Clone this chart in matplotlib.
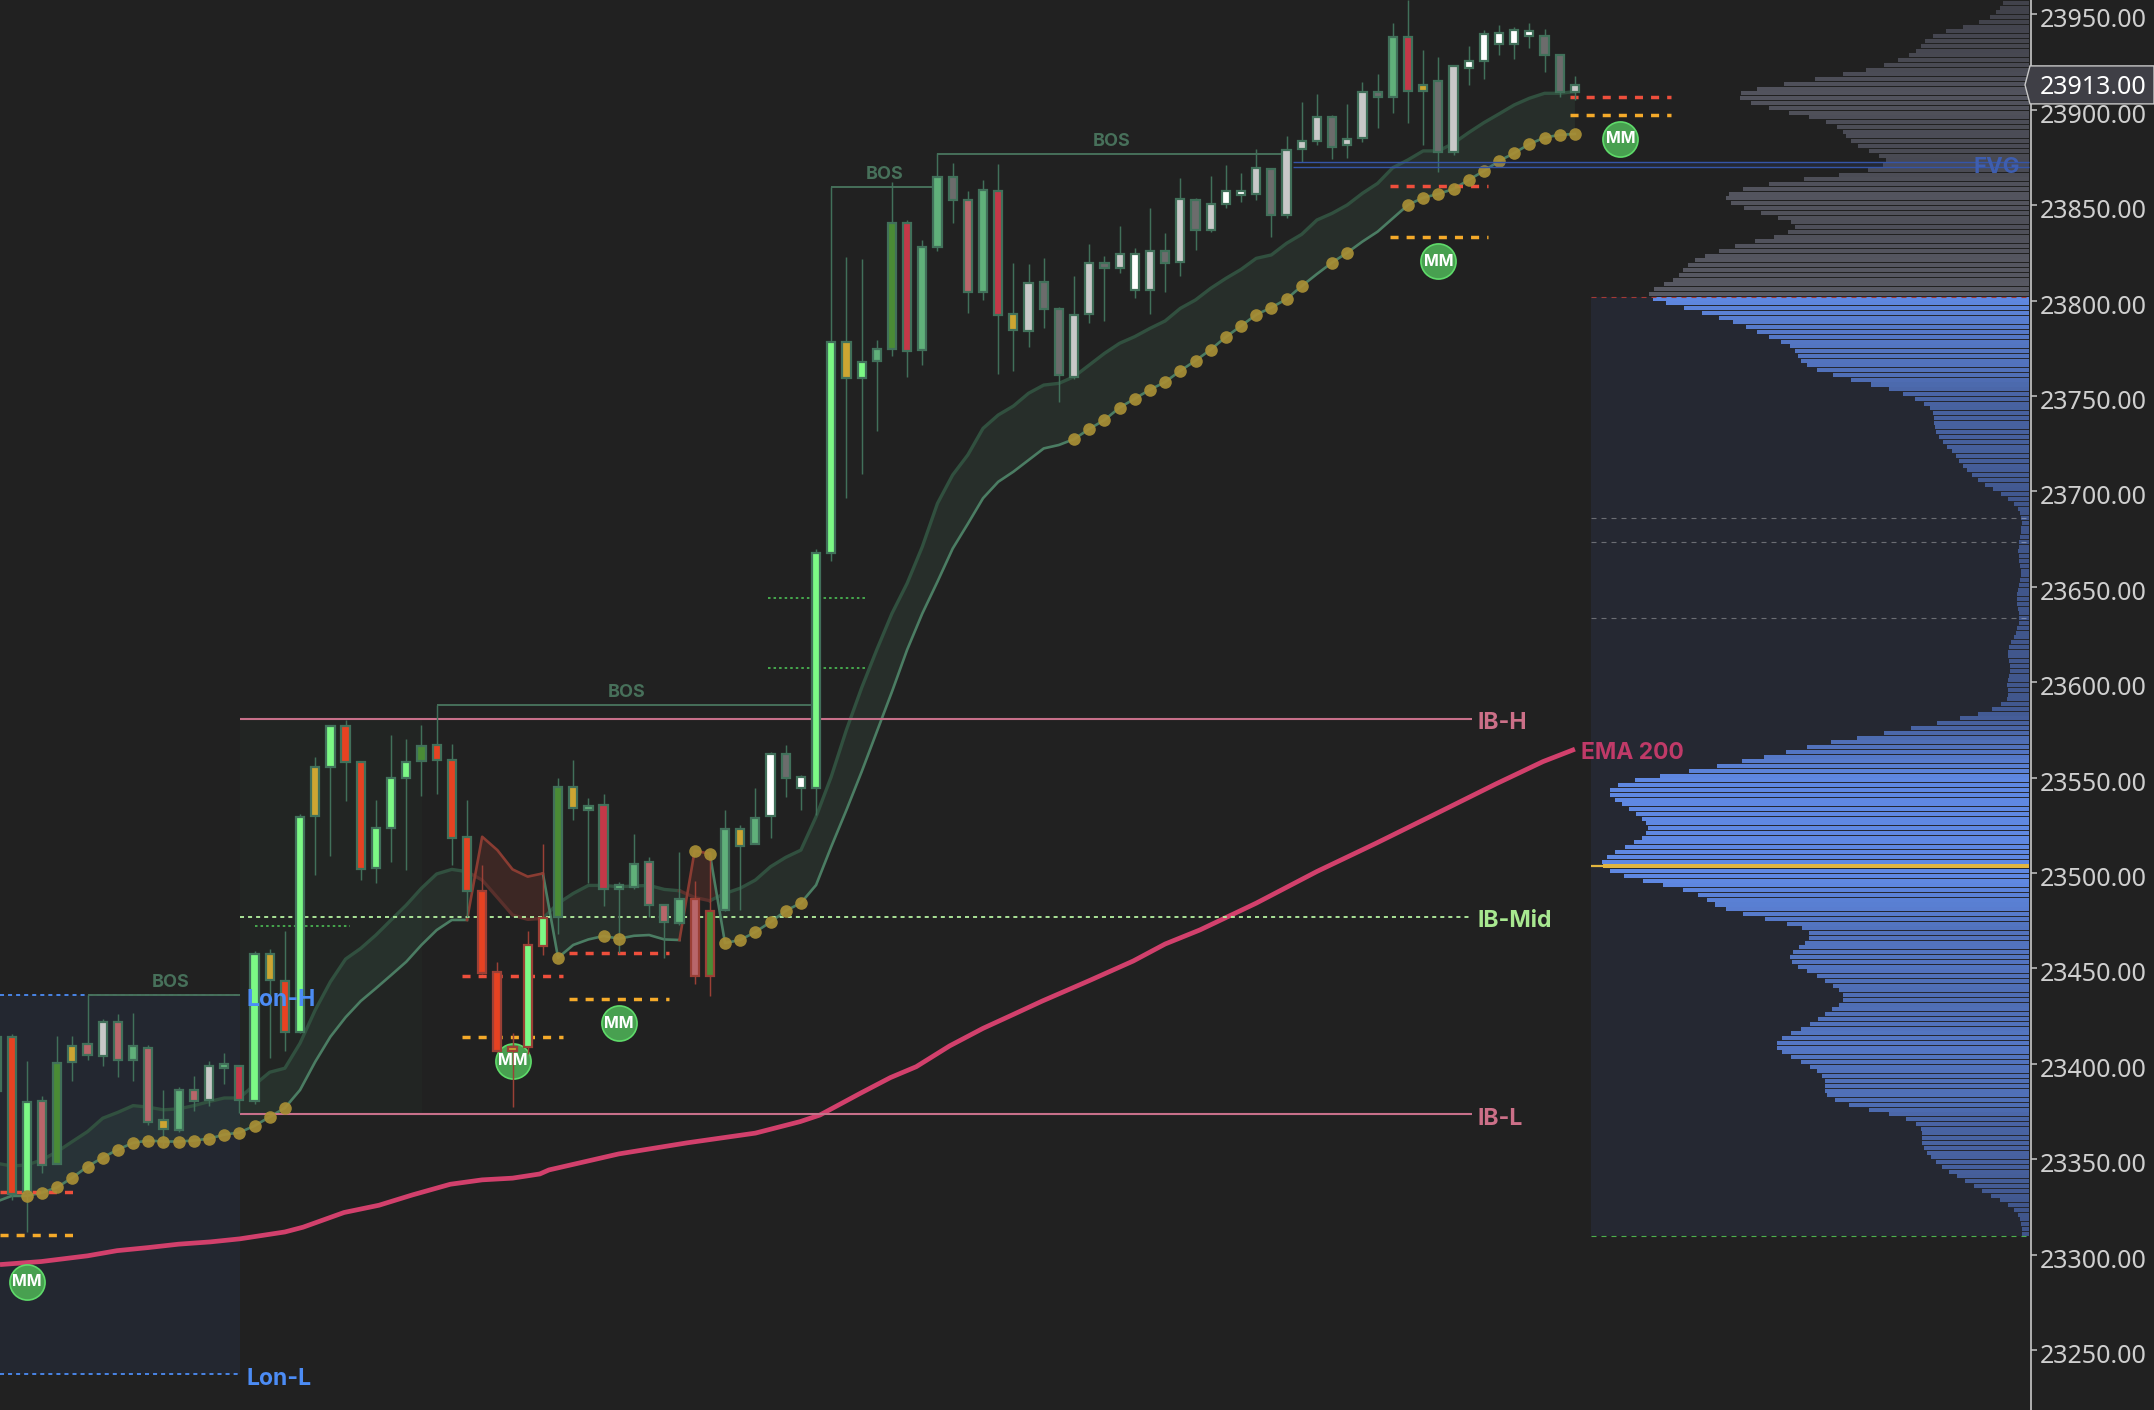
import numpy as np
import matplotlib
matplotlib.use("Agg")
import matplotlib.pyplot as plt
from matplotlib.patches import Polygon
from matplotlib.transforms import IdentityTransform, ScaledTranslation
from matplotlib.colors import to_rgb

plt.rcParams['lines.scale_dashes'] = False
plt.rcParams['font.family'] = ['Noto Sans', 'DejaVu Sans']

# --- candles, first bar is index -2 ---
first_bar = -2
body_top = [23414,23414,23380.2,23380.7,23400.7,23409.6,23410.6,23422.1,23422.1,23409.6,
 23408.5,23370.4,23386.5,23386.5,23399.1,23400,23399.1,23457.8,23457.3,23443.6,
 23529.5,23555.7,23577.2,23577.2,23558.3,23523.7,23549.6,23558.3,23566.7,23567.2,
 23559.4,23519,23490.7,23448.3,23409,23462.4,23476.4,23544.9,23544.9,23535.1,
 23535.4,23493.7,23504.9,23505.9,23483.4,23486.5,23486.5,23480.2,23523.2,23523.2,
 23529,23562.5,23562.5,23550.1,23667.9,23778.1,23778.1,23768,23774.4,23840.5,
 23840.8,23828.2,23864.9,23864.9,23852.9,23858.1,23857.6,23792.8,23809.4,23809.9,
 23795.4,23792.6,23819.8,23819.8,23824.6,23824.6,23826.1,23826.1,23853.4,23852.5,
 23850.8,23857.6,23857.6,23869.3,23868.8,23879.1,23883.8,23896.4,23896,23884.8,
 23909.5,23909.5,23938.3,23938.3,23913.1,23915.2,23923.1,23925.7,23939.9,23940.4,
 23942,23941.4,23938.8,23928.9,23912.8]
body_bot = [23386,23331.7,23332.7,23347,23347.4,23400.8,23404.5,23404,23401.9,23401.9,
 23369.4,23365.6,23365.4,23380.4,23380.9,23398,23380.9,23380.4,23443.8,23416.6,
 23416.5,23529.7,23555.4,23558,23501.9,23502.4,23523.4,23549.6,23558.8,23559.2,
 23518.2,23490.6,23447.4,23406.5,23406.7,23408.6,23461.7,23477.1,23533.9,23533.2,
 23491.4,23491.8,23492.5,23483,23474.1,23473.6,23446,23446,23480.4,23514,
 23515.2,23529.9,23549.6,23544.4,23544.4,23667.5,23759.2,23759.2,23768.1,23774.4,
 23773.4,23773.9,23827.9,23852.5,23804.3,23804.3,23792.2,23784.4,23783.9,23795.4,
 23761.2,23759.9,23792.9,23816.9,23816.9,23805.3,23805.3,23819.8,23820,23836.8,
 23836.8,23850.4,23855.1,23855.7,23844.7,23844.7,23879.2,23883.4,23880.6,23881.3,
 23885,23906.8,23906.7,23909.6,23909.6,23877.7,23877.7,23921.7,23925.4,23934.3,
 23934.3,23938.6,23928.5,23909.1,23909.1]
wick_high = [23420,23415.5,23401.4,23383.2,23414.6,23414.6,23436.1,23423.4,23426.2,23426.7,
 23409.7,23386.3,23387.9,23393.7,23401.4,23405.7,23399.1,23459.2,23460,23469.7,
 23530.9,23560.6,23577.2,23580.2,23558.3,23538.2,23572.3,23570.2,23577.5,23588,
 23567.6,23538.2,23504.2,23453.5,23416,23469.6,23515.2,23549.6,23559.2,23539.1,
 23541.4,23495.4,23520.4,23508.5,23484,23511,23496,23511.2,23533,23525.1,
 23544.4,23563.6,23567.1,23551.3,23669.6,23859.7,23822.8,23821.8,23779.3,23861.9,
 23842.2,23831.7,23877.1,23871.9,23857.4,23863.2,23871.6,23819.5,23819,23822.1,
 23796.4,23812.9,23829.4,23823.3,23839.1,23827.5,23848.5,23835.4,23864.2,23853.6,
 23865.3,23871,23866.8,23879.4,23869.3,23886.2,23904.1,23908.2,23897.2,23903,
 23914.5,23918.7,23945.4,23957.5,23931.3,23927.6,23923.1,23933.4,23941.8,23944.4,
 23943.2,23945.4,23942.3,23929,23917.7]
wick_low = [23380,23328.7,23311.8,23343,23347.4,23391.1,23402.1,23398.9,23393.1,23391.1,
 23368,23357,23364.5,23375.5,23378.1,23389.5,23374.1,23378.7,23402.8,23406.9,
 23416,23498.9,23509.1,23537.9,23496.3,23494.9,23505.9,23501.6,23540.5,23541.4,
 23504.2,23477.1,23447,23406,23377.3,23405,23457,23468,23527.8,23494.6,
 23482.7,23457.9,23491.8,23477.1,23455.3,23473,23441.8,23435.7,23480,23480.6,
 23515,23518.5,23540,23533,23530.4,23663.7,23696.7,23709.3,23731.8,23771.1,
 23760.1,23766.2,23826.1,23840.8,23793.6,23800.3,23761.7,23763.2,23775.8,23785.8,
 23747,23759,23788.4,23789.3,23814.6,23801.5,23793.1,23804.5,23812.9,23826.5,
 23836,23848.5,23851.6,23852.7,23833.5,23843.3,23872.4,23881.5,23874.2,23874.9,
 23883.3,23890.6,23898.5,23893.2,23881.7,23867.5,23876.3,23913.1,23916.3,23928.7,
 23926.6,23932.3,23919.8,23906.8,23905]
body_codes = ("DRBSDGSLSMSGMSLMCBGRBGBRRBBBDRRRRRGBBDGMCMMSSMSDMGMWKWBBGBMDCMMKSMCGLKKL"
              "LKLWLKLKLWWLKLLLKLLKMCGKLWWWWWKKL")
red_border_bars = [30, 31, 32, 33, 34, 44, 45]
body_colors = {'B': '#7CF985', 'R': '#E64222', 'G': '#CCA532', 'S': '#B8666A', 'C': '#C43848',
               'D': '#4A8B35', 'M': '#60B07A', 'W': '#FFFFFF', 'L': '#C8C8C8', 'K': '#6C6C6C'}

# --- channel lines, one value per bar ---
band_upper = [23347.9,23346.5,23347,23349.7,23354,23359.3,23364.5,23371.5,23374.6,23378.1,
 23377.3,23375.9,23376.4,23378.1,23380.2,23382.1,23382.1,23389,23395.6,23397.7,
 23410.8,23428.2,23443,23454.9,23460.5,23467.5,23475.4,23483.2,23492,23499.5,
 23501.9,23500.7,23496.3,23487.2,23478,23475.7,23476.2,23484.1,23489.3,23493.5,
 23493.5,23492.8,23493.2,23493.5,23491.4,23490.7,23487.2,23485.5,23489.3,23492,
 23496.3,23503.3,23508.2,23512,23529.5,23550.5,23575,23597,23617,23636,
 23651.8,23671,23693.7,23708.6,23719.1,23733,23740,23744.7,23751.4,23755.7,
 23756.6,23760.1,23766.2,23772.3,23777.6,23781.1,23785.4,23789.3,23795.9,23800.3,
 23806.4,23811.6,23816.3,23822.1,23823.9,23830,23834.7,23842.2,23845.7,23850.1,
 23856.2,23861.4,23869.6,23873.7,23878.4,23878.4,23882.4,23888,23893.2,23897.8,
 23902.5,23906,23908.6,23908.6,23909.5]
band_lower = [23327.8,23330.8,23330.8,23332.5,23335.3,23340.4,23346.2,23350.9,23355.1,23358.6,
 23359.8,23359.3,23359.3,23359.8,23360.8,23362.9,23364,23367.5,23372.2,23376.9,
 23386.3,23401.1,23414.2,23424.4,23432.9,23439.6,23446.5,23453.5,23462.3,23470.1,
 23475.4,23475.4,23519,23512,23501.9,23498.1,23499.8,23455.6,23462.3,23465.2,
 23467,23465.6,23467.1,23467.5,23465.2,23464.9,23511.7,23510.1,23463.3,23464.9,
 23469.1,23474.3,23480.2,23484.3,23493.7,23513.8,23533,23553,23574,23595,
 23617,23636,23652.7,23670,23683,23696.4,23705,23710.3,23716.4,23722.5,
 23724.3,23727.4,23732.7,23737.4,23743.9,23748.6,23753.3,23757.3,23763.2,23768.5,
 23774.3,23780.9,23786.7,23792.6,23796.3,23800.8,23807.6,23813.9,23819.9,23825.1,
 23830.9,23836.1,23843.1,23850.1,23853.9,23855.8,23858.5,23863.2,23867.9,23873.1,
 23877.3,23882,23885.4,23886.8,23887.3]
dot_bars = list(range(0, 18)) + [35, 38, 39] + list(range(44, 52)) + list(range(69, 85)) + [86, 87] + list(range(91, 103))

# --- EMA 200 ---
ema_bars = [-1.77,0.95,4,5.94,7.98,10,12.1,14.04,17,18.2,20.9,23.2,25.4,27.9,30,32,33.8,34.4,39,43.5,48,
            50.94,52.26,54.9,56.9,58.6,60.8,63,65,66.9,70,72.9,75,77.3,81,85,88.9,92.7,96.8,99.9,102]
ema_vals = [23294.8,23296.4,23299.4,23302.1,23303.7,23305.5,23306.7,23308.3,23311.9,23314.4,23322.1,
            23325.9,23331.3,23336.9,23339.2,23340.1,23342.3,23344.4,23352.8,23358.6,23363.7,
            23369.7,23373.2,23384.5,23392.8,23398.5,23409.4,23418.6,23425.9,23432.9,23443.6,23453.9,
            23462.8,23470.2,23484.2,23500.8,23515.6,23530.5,23546.7,23558.4,23564.9]

# --- volume profile, rows every 2.5 points from the top ---
profile_top = 23956
profile_step = 2.5
profile_split = 62   # rows above this are grey
profile_poc = 181
profile_vol = [26,29,33,39,50,66,83,96,104,108,113,120,131,145,163,186,214,245,272,288,
 289,278,260,240,220,203,192,186,183,178,171,160,150,143,146,161,190,225,260,286,
 300,303,298,285,268,251,238,234,241,255,274,294,310,324,334,341,346,350,356,365,
 375,380,376,363,345,327,310,296,283,272,260,248,239,234,231,228,222,212,196,178,
 158,140,126,114,105,99,96,95,95,94,93,90,86,82,77,73,70,66,62,57,
 51,44,36,28,21,15,11,9,8,7,8,8,9,10,10,11,10,10,9,8,
 8,9,10,11,12,12,12,11,10,10,10,12,13,15,18,20,21,21,20,19,
 19,20,21,22,21,21,22,28,37,51,69,92,118,145,172,198,222,243,265,287,
 312,340,369,394,411,419,419,414,407,400,393,387,383,381,383,387,395,404,414,422,
 427,426,419,405,386,366,346,331,322,314,303,286,264,242,227,220,220,224,230,236,
 239,237,231,222,212,204,196,190,186,186,190,197,204,211,219,228,238,247,252,252,
 247,238,228,219,212,207,204,204,204,202,194,180,160,140,123,113,108,107,107,107,
 105,102,98,93,87,80,72,64,55,47,38,29,21,15,11,9,8,7,7]
va_high = 23802
va_low = 23309.8
profile_levels = [23685.9, 23673.3, 23633.5]
poc_price = 23503.6

# --- levels ---
y_ticks = [23250,23300,23350,23400,23450,23500,23550,23600,23650,23700,23750,23800,23850,23900,23950]
last_price = 23913.00
lon_high, lon_low = 23436.1, 23237.5
ib_high, ib_mid, ib_low = 23580.7, 23476.9, 23373.9
fvg_high, fvg_low = 23872.4, 23869.8

# start bar, end bar, price, text bar, text price
bos_start = [4, 27, 53, 60]
bos_end = [14.04, 52, 60, 83]
bos_price = [23436.1, 23588.2, 23859.7, 23877]
bos_text_bar = [9.5, 39.5, 56.5, 71.5]
bos_text_price = [23442.8, 23594.5, 23866.1, 23883.2]

mm_bars = [0, 32, 39, 93, 105]
mm_prices = [23285.7, 23401.5, 23421.4, 23820.7, 23884.7]
mm_red = [23333.1, 23446.2, 23458.1, 23860.2, 23906.7]
mm_orange = [23310.4, 23414, 23434, 23833.3, 23897.2]
mm_from = [-1.77, 28.7, 35.7, 89.8, 101.7]
mm_to = [3.3, 35.3, 42.3, 96.3, 108.3]

dotted_from = [15, 48.8, 48.8]
dotted_to = [21.3, 55.3, 55.3]
dotted_price = [23472.2, 23644, 23607.6]

BG = '#212121'
WIDTH, HEIGHT = 2154, 1410
AXIS_PX = 2031
BAR_PX = 15.177
prof_right = 131.92
label_font = ['Inter', 'Liberation Sans', 'DejaVu Sans']


def mix(a, b, t):
    a, b = np.array(to_rgb(a)), np.array(to_rgb(b))
    return tuple(a + (b - a) * min(t, 1.0))


fig = plt.figure(figsize=(WIDTH / 100, HEIGHT / 100), dpi=100, facecolor=BG)
ax = fig.add_axes([0, 0, AXIS_PX / WIDTH, 1], facecolor=BG)
ax.set_xlim(-1.77, 132.05)
ax.set_ylim(23218.6, 23957.49)

# session boxes
ax.fill_between([-1.77, 14.04], lon_low, lon_high, color='#232730', lw=0, zorder=0.5)
ax.fill_between([14.04, 26.03], ib_low, ib_high, color='#222523', lw=0, zorder=0.5)
ax.fill_between([103.06, prof_right], va_low, va_high, color='#252832', lw=0, zorder=0.5)

# channel
bars = np.arange(first_bar, first_bar + len(body_top))
upper = np.array(band_upper)
lower = np.array(band_lower)
ax.fill_between(bars, upper, lower, where=upper >= lower, interpolate=True,
                color='#4A7A62', alpha=0.15, lw=0, zorder=1)
ax.fill_between(bars, upper, lower, where=upper < lower, interpolate=True,
                color='#A04030', alpha=0.22, lw=0, zorder=1)
green_spans = [(-2, 29), (34, 43), (45, 102)]
red_spans = [(29, 34), (43, 45)]
for a, b in green_spans:
    s = slice(a - first_bar, b - first_bar + 1)
    ax.plot(bars[s], upper[s], color='#31503F', lw=2.4, zorder=1.5)
    ax.plot(bars[s], lower[s], color='#4B7D63', lw=1.9, zorder=1.5)
for a, b in red_spans:
    s = slice(a - first_bar, b - first_bar + 1)
    ax.plot(bars[s], upper[s], color='#59302C', lw=2.4, zorder=1.5)
    ax.plot(bars[s], lower[s], color='#8A3C32', lw=1.9, zorder=1.5)

# EMA
ax.plot(ema_bars, ema_vals, color='#D2406C', lw=3.4, solid_capstyle='butt', zorder=2)

# session lines
dash = (0, (2.9, 2.9))
ax.hlines([lon_high, lon_low], -1.77, 14.04, color='#4C8CF5', lw=1.3, linestyle=dash, zorder=2.2)
ax.hlines([ib_high, ib_low], 14.04, 95.2, color='#C8708A', lw=1.5, zorder=2.2)
ax.hlines(ib_mid, 14.04, 95.2, color='#B5F2A0', lw=1.3, linestyle=dash, zorder=2.2)
ax.hlines(dotted_price, dotted_from, dotted_to, color='#46A84E', lw=1.4, linestyle=(0, (1.8, 2.2)), zorder=2.2)

# BOS
for x0, x1, p, tx, tp in zip(bos_start, bos_end, bos_price, bos_text_bar, bos_text_price):
    ax.hlines(p, x0, x1, color='#47705A', lw=1.4, zorder=2.3)
    ax.text(tx, tp, 'BOS', color='#47705A', fontsize=13, fontweight='bold', ha='center', va='center',
            family=label_font, zorder=6)

# liquidity levels
liq = (0, (5.8, 5.8))
ax.hlines(mm_red, mm_from, mm_to, color='#EE4F3C', lw=2.5, linestyle=liq, zorder=2.5)
ax.hlines(mm_orange, mm_from, mm_to, color='#F5AA2A', lw=2.5, linestyle=liq, zorder=2.5)
ax.scatter(mm_bars, mm_prices, s=640, color='#48A050', edgecolor='#5FDB6A', linewidth=1.2, zorder=2.7)
for x, p in zip(mm_bars, mm_prices):
    ax.text(x, p, 'MM', color='white', fontsize=11.5, fontweight='bold', ha='center', va='center',
            family=label_font, zorder=6)

# candles
border = ['#9B4036' if b in red_border_bars else '#41705A' for b in bars]
ax.vlines(bars, wick_low, wick_high, color=border, lw=1.05, zorder=3)
top = np.array(body_top)
bot = np.array(body_bot)
ax.bar(bars, top - bot, bottom=bot, width=0.54, color=[body_colors[c] for c in body_codes],
       edgecolor=border, linewidth=1.6, zorder=3.5)

# trailing dots
dot_idx = [b - first_bar for b in dot_bars]
ax.scatter(dot_bars, lower[dot_idx], s=82, color='#A98F35', alpha=0.92, linewidth=0, zorder=4)

# FVG
ax.fill_between([85.2, prof_right], fvg_low, fvg_high, color='#3555A8', alpha=0.15, lw=0, zorder=4.4)
ax.hlines([fvg_high, fvg_low], 83.4, prof_right, color='#3555A8', lw=1.0, zorder=4.5)
ax.text(129.8, 23870.0, 'FVG', color='#3E5EB0', fontsize=16, fontweight='bold', ha='center', va='center',
        family=label_font, zorder=6)

# volume profile
vols = np.array(profile_vol, dtype=float)
rows = profile_top - profile_step * np.arange(len(vols))
colors = []
for k, v in enumerate(vols):
    if k < profile_split:
        colors.append(mix('#3F4049', '#585963', v / 380))
    else:
        colors.append(mix('#3F5488', '#5F88E2', v / 380))
colors[profile_poc] = '#E2B53F'
ax.barh(rows, vols / BAR_PX, left=prof_right - vols / BAR_PX, height=2.1, color=colors, lw=0, zorder=4.2)
ax.hlines(poc_price, 103.06, prof_right, color='#E2B53F', lw=1.6, zorder=4.3)
ax.hlines(va_high, 103.06, prof_right, color='#A53A35', lw=0.8, linestyle=(0, (3.6, 3.6)), zorder=4.3)
ax.hlines(va_low, 103.06, prof_right, color='#4DB04D', lw=0.8, linestyle=(0, (3.6, 3.6)), zorder=4.3)
ax.hlines(profile_levels, 103.06, prof_right, color='white', alpha=0.32, lw=0.8,
          linestyle=(0, (3.6, 3.6)), zorder=4.3)

# labels
lab = dict(fontsize=16.5, fontweight='bold', ha='left', va='center', family=label_font, zorder=6)
ax.text(14.44, 23433.7, 'Lon-H', color='#4C8CF5', **lab)
ax.text(14.44, 23235.1, 'Lon-L', color='#4C8CF5', **lab)
ax.text(95.6, 23578.6, 'IB-H', color='#CC7088', **lab)
ax.text(95.6, 23474.7, 'IB-Mid', color='#A8E890', **lab)
ax.text(95.6, 23371.3, 'IB-L', color='#CC7088', **lab)
ax.text(102.4, 23562.9, 'EMA 200', color='#C03A68', **lab)

# axis
for name in ['top', 'left', 'bottom']:
    ax.spines[name].set_visible(False)
ax.spines['right'].set_color('#C8C8C8')
ax.spines['right'].set_linewidth(1.2)
ax.set_xticks([])
ax.yaxis.tick_right()
ax.set_yticks(y_ticks)
ax.set_yticklabels([f'{v:.2f}' for v in y_ticks])
ax.tick_params(axis='y', length=4, width=1.1, color='#C8C8C8', labelcolor='#CFCFCF', labelsize=18, pad=2)
nudge = ScaledTranslation(0, -2.5 / 72, fig.dpi_scale_trans)
for t in ax.yaxis.get_majorticklabels():
    t.set_transform(t.get_transform() + nudge)

# last price tag
fig.canvas.draw()
tip_y = ax.transData.transform((0, last_price))[1]
tag = Polygon([(AXIS_PX - 6, tip_y), (AXIS_PX - 1, tip_y + 19), (WIDTH, tip_y + 19),
               (WIDTH, tip_y - 19), (AXIS_PX - 1, tip_y - 19)], closed=True,
              facecolor='#3F3F46', edgecolor='#C8C8C8', linewidth=1.0,
              transform=IdentityTransform(), zorder=5)
fig.add_artist(tag)
fig.text((AXIS_PX + 9) / WIDTH, (tip_y - 3) / HEIGHT, f'{last_price:.2f}', color='white', fontsize=18,
         ha='left', va='center', zorder=6)

fig.savefig('out.png', dpi=100, facecolor=BG)
